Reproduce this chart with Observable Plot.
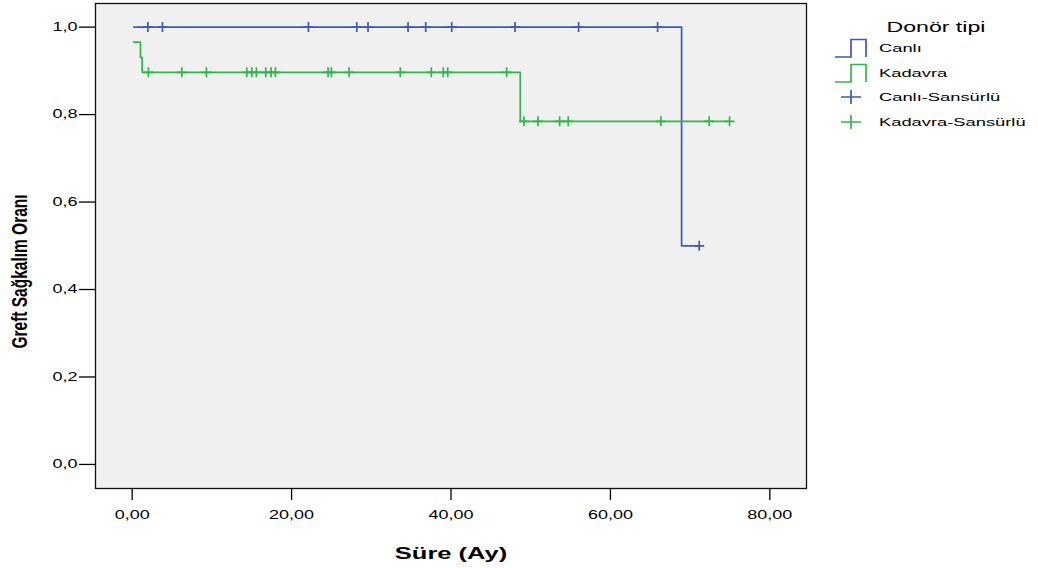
<!DOCTYPE html>
<html>
<head>
<meta charset="utf-8">
<script src="https://cdn.jsdelivr.net/npm/d3@7"></script>
<script src="https://cdn.jsdelivr.net/npm/@observablehq/plot@0.6"></script>
<style>
  body { margin: 0; background: #fff; font-family: "Liberation Sans", Arial, sans-serif; }
  #wrap { position: relative; width: 1038px; height: 568px; overflow: hidden; }
  #chart { position: absolute; left: 0; top: 0; }
  #legend { position: absolute; left: 830px; top: 0; width: 212px; height: 160px; color: #000; }
  #legend .lt { position: absolute; left: 0; top: 17px; width: 212px; text-align: center; font-size: 14px; line-height: 20px; }
  #legend .lt span { display: inline-block; transform: scaleX(1.65); transform-origin: center center; }
  #legend .rows { position: absolute; left: 5px; top: 35.75px; }
  #legend .row { height: 24.5px; display: flex; align-items: center; }
  #legend .row svg { flex: none; margin-right: 12px; }
  #legend .row span { display: inline-block; font-size: 11.6px; line-height: 1; transform: scaleX(1.58); transform-origin: left center; white-space: nowrap; }
</style>
</head>
<body>
<div id="wrap"><div id="chart"></div><div id="legend"></div></div>
<script>
// ---------- data ----------
const groups = ["Canlı", "Kadavra"];
const groupColors = ["#3d5ab4", "#33b54c"];

// Kaplan-Meier step curves (time in months, survival)
const canliTimes = [0.2, 68.93, 71.14];
const canliSurv = [1.0, 0.5, 0.5];
const kadavraTimes = [0.2, 1.04, 1.25, 48.69, 74.95];
const kadavraSurv = [0.9655, 0.931, 0.8966, 0.7845, 0.7845];

// censored observations
const canliCensorTimes = [1.97, 3.80, 22.11, 28.18, 29.59, 34.61, 36.83, 40.09, 48.03, 56.01, 65.92, 71.14];
const canliCensorSurv = [1, 1, 1, 1, 1, 1, 1, 1, 1, 1, 1, 0.5];
const kadavraCensorTimes = [2.04, 6.23, 9.32, 14.38, 15.01, 15.59, 16.76, 17.43, 17.97, 24.58, 24.99, 27.21, 33.64, 37.53, 39.03, 39.59, 46.98, 49.15, 50.91, 53.63, 54.71, 66.33, 72.39, 74.95];
const kadavraCensorSurv = [0.8966, 0.8966, 0.8966, 0.8966, 0.8966, 0.8966, 0.8966, 0.8966, 0.8966, 0.8966, 0.8966, 0.8966, 0.8966, 0.8966, 0.8966, 0.8966, 0.8966, 0.7845, 0.7845, 0.7845, 0.7845, 0.7845, 0.7845, 0.7845];

const xTicks = [0, 20, 40, 60, 80];
const yTicks = [0, 0.2, 0.4, 0.6, 0.8, 1.0];
const xTitle = "Süre (Ay)";
const yTitle = "Greft Sağkalım Oranı";
const legendTitle = "Donör tipi";
const legendLabels = ["Canlı", "Kadavra", "Canlı-Sansürlü", "Kadavra-Sansürlü"];
const legendKinds = ["step", "step", "plus", "plus"];
const legendColors = [groupColors[0], groupColors[1], groupColors[0], groupColors[1]];

// ---------- tables ----------
const curves = [
  ...canliTimes.map((t, i) => ({t, s: canliSurv[i], g: groups[0]})),
  ...kadavraTimes.map((t, i) => ({t, s: kadavraSurv[i], g: groups[1]}))
];
const censors = [
  ...canliCensorTimes.map((t, i) => ({t, s: canliCensorSurv[i], g: groups[0]})),
  ...kadavraCensorTimes.map((t, i) => ({t, s: kadavraCensorSurv[i], g: groups[1]}))
];

const plusSymbol = {
  draw(ctx, size) {
    const r = Math.sqrt(size / Math.PI);
    ctx.moveTo(-r, 0); ctx.lineTo(r, 0);
    ctx.moveTo(0, -r); ctx.lineTo(0, r);
  }
};
const comma = (f) => (d) => d3.format(f)(d).replace(".", ",");

const chart = Plot.plot({
  width: 820,
  height: 568,
  marginLeft: 95,
  marginRight: 14,
  marginTop: 3,
  marginBottom: 80,
  style: {fontFamily: "'Liberation Sans', Arial, sans-serif", fontSize: "12px", color: "#000", background: "#fff"},
  x: {domain: [-4.6, 84.6]},
  y: {domain: [-0.055, 1.054]},
  color: {domain: groups, range: groupColors},
  marks: [
    Plot.frame({fill: "#f0f0f0"}),
    Plot.line(curves, {x: "t", y: "s", z: "g", stroke: "g", curve: "step-after", strokeWidth: 1.7}),
    Plot.dot(censors, {x: "t", y: "s", stroke: "g", symbol: plusSymbol, r: 5, fill: "none", strokeWidth: 1.7}),
    Plot.frame({stroke: "#111", strokeWidth: 1.3}),
    Plot.axisX(xTicks, {tickSize: 12, tickPadding: 10, tickFormat: comma(".2f"), label: null, stroke: "#000", strokeWidth: 1.3}),
    Plot.axisY(yTicks, {tickSize: 16, tickPadding: 2, tickFormat: comma(".1f"), label: null, stroke: "#000", strokeWidth: 1.3}),
    Plot.text([xTitle], {frameAnchor: "bottom", dy: 65, fontWeight: "bold", fontSize: 17, lineAnchor: "middle", textAnchor: "middle"}),
    Plot.text([yTitle], {frameAnchor: "left", dx: -76, dy: 25.5, rotate: -90, fontWeight: "bold", fontSize: 15.5, lineAnchor: "middle", textAnchor: "middle"})
  ]
});
document.getElementById("chart").appendChild(chart);

// widen text horizontally like the reference rendering
chart.querySelectorAll("text").forEach((el) => {
  const tr = el.getAttribute("transform") || "";
  if (tr.includes("rotate")) {
    el.setAttribute("transform", tr + " scale(1,1.45)");
  } else {
    const len = el.getComputedTextLength();
    if (len > 0) {
      el.setAttribute("textLength", (len * 1.5).toFixed(2));
      el.setAttribute("lengthAdjust", "spacingAndGlyphs");
    }
  }
});

// ---------- legend ----------
const legend = document.getElementById("legend");
const lt = document.createElement("div");
lt.className = "lt";
lt.innerHTML = `<span>${legendTitle}</span>`;
legend.appendChild(lt);
const rows = document.createElement("div");
rows.className = "rows";
legendLabels.forEach((label, i) => {
  const row = document.createElement("div");
  row.className = "row";
  const c = legendColors[i];
  const icon = legendKinds[i] === "step"
    ? `<svg width="32" height="20"><path d="M0,19H16V1.5H31V19" fill="none" stroke="${c}" stroke-width="1.7"/></svg>`
    : `<svg width="32" height="20"><path d="M6,10H26M16,3V17" fill="none" stroke="${c}" stroke-width="1.7"/></svg>`;
  row.innerHTML = icon + `<span>${label}</span>`;
  rows.appendChild(row);
});
legend.appendChild(rows);
</script>
</body>
</html>
